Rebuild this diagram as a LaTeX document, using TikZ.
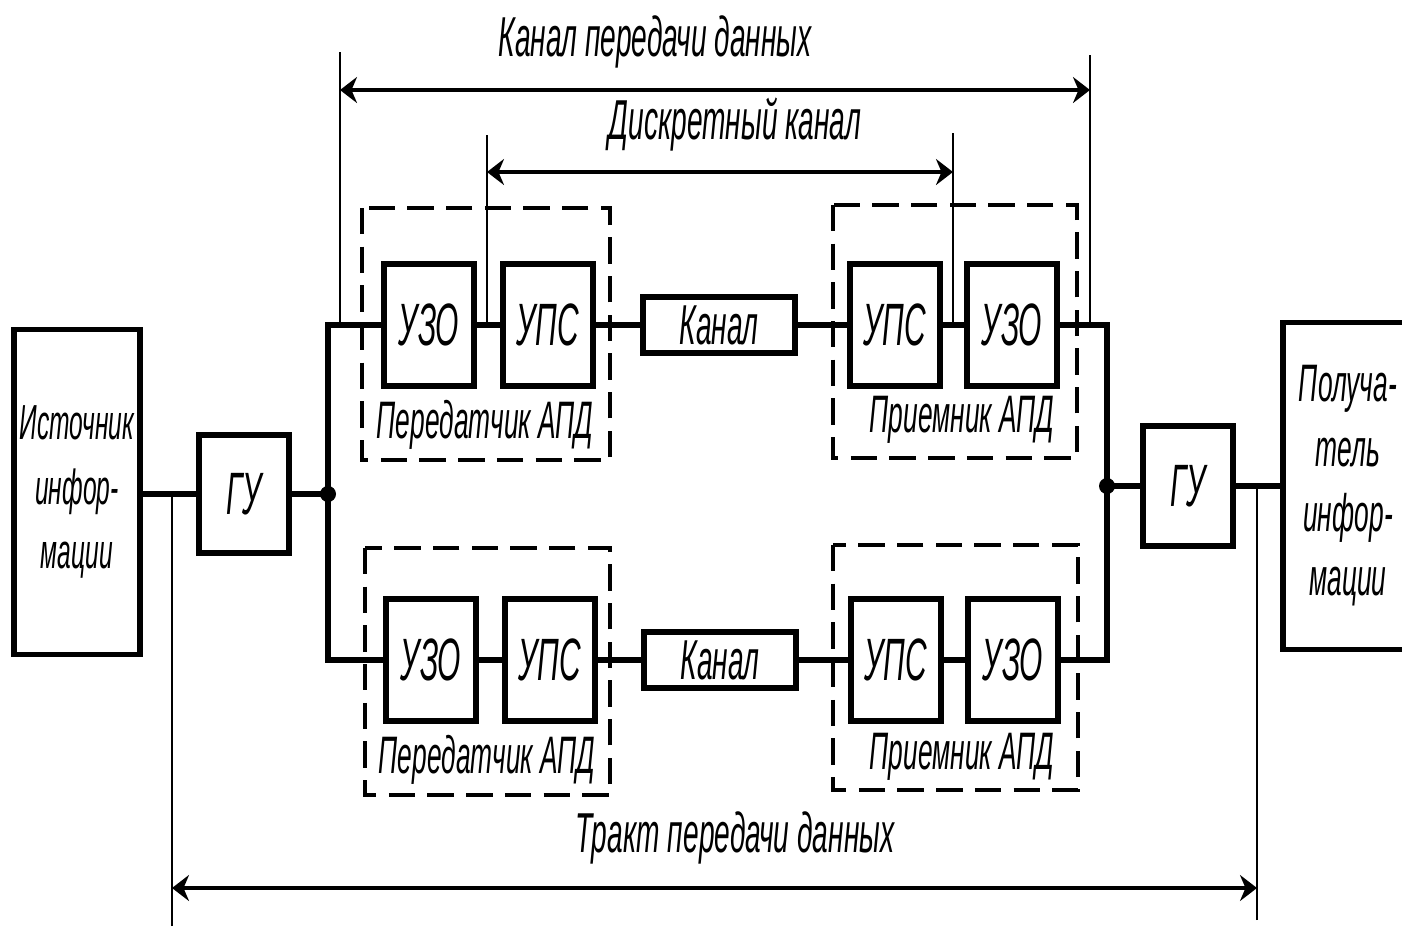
\documentclass[tikz,border=0pt]{standalone}
\usepackage{fontspec}
\setmainfont{Liberation Sans}[FakeStretch=0.5]
\usetikzlibrary{arrows.meta}

\tikzset{
  blk/.style={draw, line width=1.5pt, inner sep=0pt, font=\itshape\fontsize{17}{20}\selectfont},
  sq/.style={blk, minimum width=0.9cm, minimum height=1.22cm},
  kan/.style={blk, minimum width=1.52cm, minimum height=0.56cm, font=\itshape\fontsize{16}{18}\selectfont},
  big/.style={blk, align=center, font=\itshape\fontsize{14}{18.4}\selectfont},
  conn/.style={line width=1.8pt},
  grp/.style={line width=1.2pt, dash pattern=on 7.5pt off 3.5pt},
  brk/.style={line width=0.5pt},
  dim/.style={line width=1.1pt, {Stealth[length=0.17cm,width=0.26cm]}-{Stealth[length=0.17cm,width=0.26cm]}},
  lbl/.style={inner sep=0pt, font=\itshape\fontsize{16}{18}\selectfont},
  apd/.style={lbl, font=\itshape\fontsize{15}{18}\selectfont}
}

\begin{document}
\begin{tikzpicture}[x=0.01cm, y=-0.01cm]
\clip (0,0) rectangle (1402,926);

\node[big, minimum width=1.26cm, minimum height=3.25cm] (src) at (77,492) {Источник\\инфор-\\мации};
\node[sq, minimum height=1.18cm] (gu1) at (244,494) {ГУ};

\node[sq] (uzo1) at (429,325) {УЗО};
\node[sq] (ups1) at (548,325) {УПС};
\node[kan] (kan1) at (719,325) {Канал};
\node[sq] (ups2) at (895,325) {УПС};
\node[sq] (uzo2) at (1012,325) {УЗО};

\node[sq] (uzo3) at (431,660) {УЗО};
\node[sq] (ups3) at (550,660) {УПС};
\node[kan] (kan2) at (720,660) {Канал};
\node[sq] (ups4) at (896,660) {УПС};
\node[sq] (uzo4) at (1013,660) {УЗО};

\node[sq, minimum height=1.2cm] (gu2) at (1188,486) {ГУ};
\node[big, minimum width=1.3cm, minimum height=3.27cm, font=\itshape\fontsize{15}{18.4}\selectfont] (dst) at (1348,486) {Получа-\\тель\\инфор-\\мации};

\foreach \a/\b/\c/\d in {362/208/610/460, 833/205/1077/458, 365/548/610/795, 833/545/1078/790}
  \draw[grp] (\a,\b) rectangle (\c,\d);

\node[apd] (pr1) at (485,425) {Передатчик АПД};
\node[apd] (pr2) at (487,760) {Передатчик АПД};
\node[apd] (pm1) at (962,420) {Приемник АПД};
\node[apd] (pm2) at (962,757) {Приемник АПД};

\coordinate (jl) at (328,494);
\coordinate (jr) at (1107,486);
\draw[conn] (src.east |- gu1.west) -- (gu1.west);
\draw[conn] (gu1.east) -- (jl);
\draw[conn] (uzo1.west) -| (jl) |- (uzo3.west);
\draw[conn] (uzo1.east) -- (ups1.west);
\draw[conn] (ups1.east) -- (kan1.west);
\draw[conn] (kan1.east) -- (ups2.west);
\draw[conn] (ups2.east) -- (uzo2.west);
\draw[conn] (uzo3.east) -- (ups3.west);
\draw[conn] (ups3.east) -- (kan2.west);
\draw[conn] (kan2.east) -- (ups4.west);
\draw[conn] (ups4.east) -- (uzo4.west);
\draw[conn] (uzo2.east) -| (jr) |- (uzo4.east);
\draw[conn] (jr) -- (gu2.west);
\draw[conn] (gu2.east) -- (dst.west);
\fill (jl) circle (0.08cm);
\fill (jr) circle (0.08cm);

\coordinate (k1) at (340,52);
\coordinate (k2) at (1090,55);
\coordinate (d1) at (487,135);
\coordinate (d2) at (953,133);
\coordinate (t1) at (172,926);
\coordinate (t2) at (1257,920);
\draw[brk] (k1) -- (k1 |- uzo1.west);
\draw[brk] (k2) -- (k2 |- uzo2.east);
\draw[brk] (d1) -- (d1 |- uzo1.east);
\draw[brk] (d2) -- (d2 |- ups2.east);
\draw[brk] (t1) -- (t1 |- gu1.west);
\draw[brk] (t2) -- (t2 |- gu2.east);

\coordinate (a1) at (340,90);
\coordinate (a2) at (1090,90);
\coordinate (b1) at (487,172);
\coordinate (b2) at (953,172);
\coordinate (c1) at (172,888);
\coordinate (c2) at (1257,888);
\draw[dim] (a1) -- (a2);
\draw[dim] (b1) -- (b2);
\draw[dim] (c1) -- (c2);

\node[lbl] (tk) at (655,42) {Канал передачи данных};
\node[lbl] (td) at (735,125) {Дискретный канал};
\node[lbl] (tt) at (735,838) {Тракт передачи данных};
\end{tikzpicture}
\end{document}
